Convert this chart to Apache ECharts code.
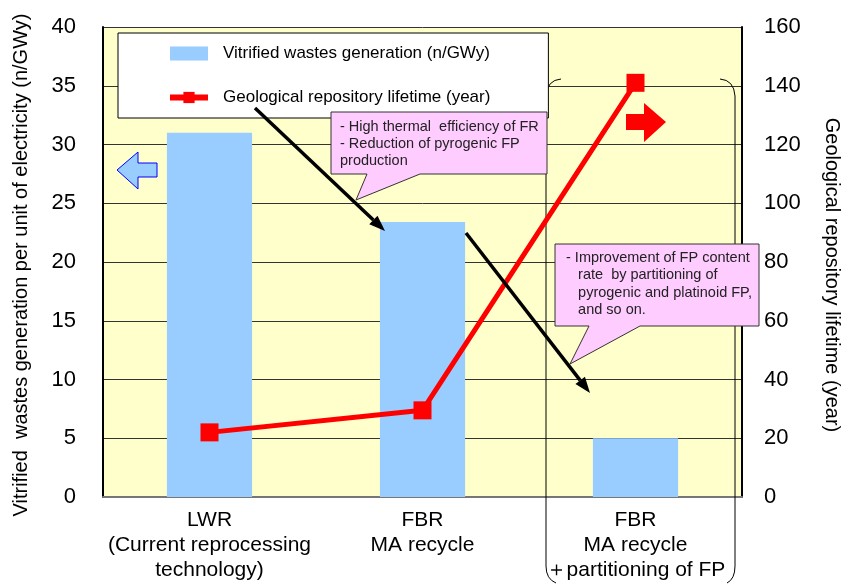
<!DOCTYPE html>
<html>
<head>
<meta charset="utf-8">
<script src="https://cdn.jsdelivr.net/npm/echarts@6/dist/echarts.min.js"></script>
<style>
  html, body { margin: 0; padding: 0; background: #fff; }
  #chart { width: 845px; height: 584px; }
</style>
</head>
<body>
<div id="chart"></div>
<script>
// data
const categories = [
  "LWR\n(Current reprocessing\ntechnology)",
  "FBR\nMA recycle",
  "FBR\nMA recycle\n＋partitioning of FP"
];
const wastes = [31, 23.4, 5];        // n/GWy, left axis
const lifetime = [22, 29.5, 141];    // year, right axis
const leftTicks = { min: 0, max: 40, interval: 5 };
const rightTicks = { min: 0, max: 160, interval: 20 };

const FONT = "Liberation Sans, Arial, sans-serif";

// arrow: line + head polygon
function arrow(x1, y1, x2, y2, width, head, hw) {
  const dx = x2 - x1, dy = y2 - y1;
  const len = Math.sqrt(dx * dx + dy * dy);
  const ux = dx / len, uy = dy / len;
  const bx = x2 - ux * head, by = y2 - uy * head;
  return [
    {
      type: "line", z: 20,
      shape: { x1: x1, y1: y1, x2: bx, y2: by },
      style: { stroke: "#000", lineWidth: width }
    },
    {
      type: "polygon", z: 20,
      shape: { points: [[x2, y2], [bx - uy * hw, by + ux * hw], [bx + uy * hw, by - ux * hw]] },
      style: { fill: "#000" }
    }
  ];
}

// bracket side: curve, straight line, curve
function bracket(x, xTop, xBot) {
  const st = { stroke: "#000", lineWidth: 1, fill: null };
  return [
    { type: "bezierCurve", z: 3, shape: { x1: xTop, y1: 79, x2: x, y2: 96, cpx1: x + (xTop > x ? 1 : -1), cpy1: 80 }, style: st },
    { type: "line", z: 3, shape: { x1: x, y1: 96, x2: x, y2: 566 }, style: st },
    { type: "bezierCurve", z: 3, shape: { x1: x, y1: 566, x2: xBot, y2: 583, cpx1: x, cpy1: 579 }, style: st }
  ];
}

const chart = echarts.init(document.getElementById("chart"));

let option = {
  animation: false,
  textStyle: { fontFamily: FONT },
  grid: {
    left: 103,
    right: 103,
    top: 27,
    bottom: 87,
    outerBoundsMode: "none",
    show: true,
    backgroundColor: "#FFFFCC",
    borderWidth: 0
  },
  legend: {
    left: 118,
    top: 33,
    orient: "vertical",
    backgroundColor: "#fff",
    borderColor: "#000",
    borderWidth: 1,
    padding: [12, 58, 12, 49],
    itemGap: 27,
    itemWidth: 38,
    itemHeight: 14,
    textStyle: { fontSize: 17, color: "#000", lineHeight: 14, padding: [0, 0, 0, 10] },
    data: [
      { name: "Vitrified wastes generation (n/GWy)", icon: "rect" },
      { name: "Geological repository lifetime (year)", lineStyle: { width: 6 } }
    ],
    z: 10
  },
  xAxis: {
    type: "category",
    data: categories,
    axisLine: { lineStyle: { color: "#777", width: 2 } },
    axisTick: { show: false },
    axisLabel: {
      color: "#000",
      fontSize: 21,
      lineHeight: 25,
      margin: 11,
      interval: 0
    }
  },
  yAxis: [
    {
      type: "value",
      min: leftTicks.min,
      max: leftTicks.max,
      interval: leftTicks.interval,
      name: "Vitrified  wastes generation per unit of electricity (n/GWy)",
      nameLocation: "middle",
      nameGap: 72,
      nameTextStyle: { fontSize: 20, color: "#000", padding: [0, 6, 0, 0] },
      axisLine: { show: true, lineStyle: { color: "#000", width: 2 } },
      axisTick: { show: false },
      axisLabel: { color: "#000", fontSize: 22, margin: 27 },
      splitLine: { show: true, lineStyle: { color: "#333", width: 1 } }
    },
    {
      type: "value",
      min: rightTicks.min,
      max: rightTicks.max,
      interval: rightTicks.interval,
      position: "right",
      name: "Geological repository lifetime (year)",
      nameLocation: "middle",
      nameRotate: -90,
      nameGap: 80,
      nameTextStyle: { fontSize: 20, color: "#000", padding: [0, 0, 0, 26] },
      axisLine: { show: true, lineStyle: { color: "#000", width: 2 } },
      axisTick: { show: false },
      axisLabel: { color: "#000", fontSize: 22, margin: 22 },
      splitLine: { show: false }
    }
  ],
  series: [
    {
      name: "Vitrified wastes generation (n/GWy)",
      type: "bar",
      yAxisIndex: 0,
      data: wastes,
      barWidth: "40%",
      itemStyle: { color: "#99CCFF" },
      z: 2
    },
    {
      name: "Geological repository lifetime (year)",
      type: "line",
      yAxisIndex: 1,
      data: lifetime,
      symbol: "rect",
      symbolSize: 18,
      lineStyle: { color: "#FF0000", width: 5 },
      itemStyle: { color: "#FF0000" },
      z: 5
    }
  ],
  graphic: [
    // blue arrow pointing to left axis
    {
      type: "polygon", z: 6,
      shape: { points: [[117, 170], [138, 152], [138, 163], [157, 163], [157, 177], [138, 177], [138, 189]] },
      style: { fill: "#99CCFF", stroke: "#0000FF", lineWidth: 1 }
    },
    // red arrow pointing to right axis
    {
      type: "polygon", z: 6,
      shape: { points: [[626, 114], [644, 114], [644, 103], [666, 122], [644, 142], [644, 130], [626, 130]] },
      style: { fill: "#FF0000" }
    },
    // callout 1
    {
      type: "polygon", z: 15,
      shape: { points: [[331, 112], [547, 112], [547, 174], [420, 174], [356, 200], [367, 174], [331, 174]] },
      style: { fill: "#FFCCFF", stroke: "#333", lineWidth: 1 }
    },
    {
      type: "text", z: 16, left: 340, top: 118,
      style: {
        text: "- High thermal  efficiency of FR\n- Reduction of pyrogenic FP\nproduction",
        font: "14.5px " + FONT, fill: "#222", lineHeight: 17
      }
    },
    // callout 2
    {
      type: "polygon", z: 15,
      shape: { points: [[555, 244], [759, 244], [759, 326], [640, 326], [570, 364], [589, 326], [555, 326]] },
      style: { fill: "#FFCCFF", stroke: "#333", lineWidth: 1 }
    },
    {
      type: "text", z: 16, left: 566, top: 249,
      style: {
        text: "- Improvement of FP content\n   rate  by partitioning of\n   pyrogenic and platinoid FP,\n   and so on.",
        font: "14.5px " + FONT, fill: "#222", lineHeight: 17.5
      }
    }
  ].concat(bracket(546, 561, 556))
   .concat(bracket(735, 720, 727))
   .concat(arrow(255, 108, 385, 231, 3.5, 16, 6))
   .concat(arrow(466, 233, 590, 393, 3.5, 16, 6))
};

chart.setOption(option);
</script>
</body>
</html>
